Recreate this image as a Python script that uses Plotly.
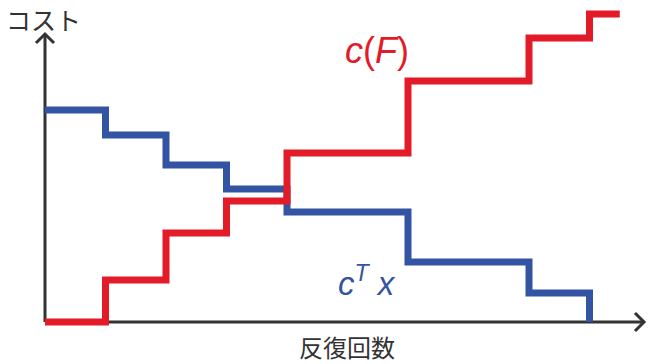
import plotly.graph_objects as go

# Data (iteration index, cost)
iterations_red = [0, 1, 2, 3, 4, 6, 8, 9, 9.5]
cost_cF = [0, 42, 89, 121, 169, 241, 284, 308, 308]
iterations_blue = [0, 1, 2, 3, 4, 6, 8, 9]
cost_cTx = [212, 187, 157, 133, 110, 60, 29, 0]

RED = "#e31a27"
BLUE = "#3353a3"
AX = "#333333"

# pixel -> data helpers for decorations only
X0, UNIT, Y0 = 45, 60.5, 322
def dx(p):
    return (p - X0) / UNIT
def dy(p):
    return Y0 - p

fig = go.Figure()
fig.add_trace(go.Scatter(x=iterations_blue, y=cost_cTx, mode="lines",
                         line=dict(color=BLUE, width=7, shape="hv"), hoverinfo="skip"))
fig.add_trace(go.Scatter(x=iterations_red, y=cost_cF, mode="lines",
                         line=dict(color=RED, width=7, shape="hv"), hoverinfo="skip"))

shapes = []
# axes lines
shapes.append(dict(type="line", x0=dx(45), y0=dy(322), x1=dx(45), y1=dy(34), line=dict(color=AX, width=3), layer="below"))
shapes.append(dict(type="line", x0=dx(45), y0=dy(322), x1=dx(644), y1=dy(322), line=dict(color=AX, width=3), layer="below"))
# arrow chevrons
shapes.append(dict(type="path", path=f"M {dx(36)},{dy(43)} L {dx(45)},{dy(34)} L {dx(54)},{dy(43)}", line=dict(color=AX, width=3), layer="below"))
shapes.append(dict(type="path", path=f"M {dx(635)},{dy(313)} L {dx(644)},{dy(322)} L {dx(635)},{dy(331)}", line=dict(color=AX, width=3), layer="below"))

annotations = [
    dict(x=dx(43), y=dy(19), text="コスト", showarrow=False, xanchor="center", yanchor="middle",
         font=dict(family="Noto Sans CJK JP", size=25, color=AX)),
    dict(x=dx(347), y=dy(346), text="反復回数", showarrow=False, xanchor="center", yanchor="middle",
         font=dict(family="Noto Sans CJK JP", size=24, color=AX)),
    dict(x=dx(377), y=dy(50), text="<i>c</i>(<i>F</i>)", showarrow=False, xanchor="center", yanchor="middle",
         font=dict(family="Liberation Sans", size=36, color=RED)),
    dict(x=dx(367), y=dy(281), text="<i>c</i><sup><i>T</i></sup> <i>x</i>", showarrow=False, xanchor="center", yanchor="middle",
         font=dict(family="Liberation Sans", size=33, color=BLUE)),
]

fig.update_layout(
    width=649, height=364,
    margin=dict(l=0, r=0, t=0, b=0),
    paper_bgcolor="white", plot_bgcolor="white",
    showlegend=False,
    shapes=shapes, annotations=annotations,
    xaxis=dict(visible=False, range=[dx(0), dx(649)], fixedrange=True),
    yaxis=dict(visible=False, range=[dy(364), dy(0)], fixedrange=True),
)
fig.write_html("out.html", config={"displayModeBar": False},
               post_script="document.body.style.margin='0';document.body.style.overflow='hidden';")
